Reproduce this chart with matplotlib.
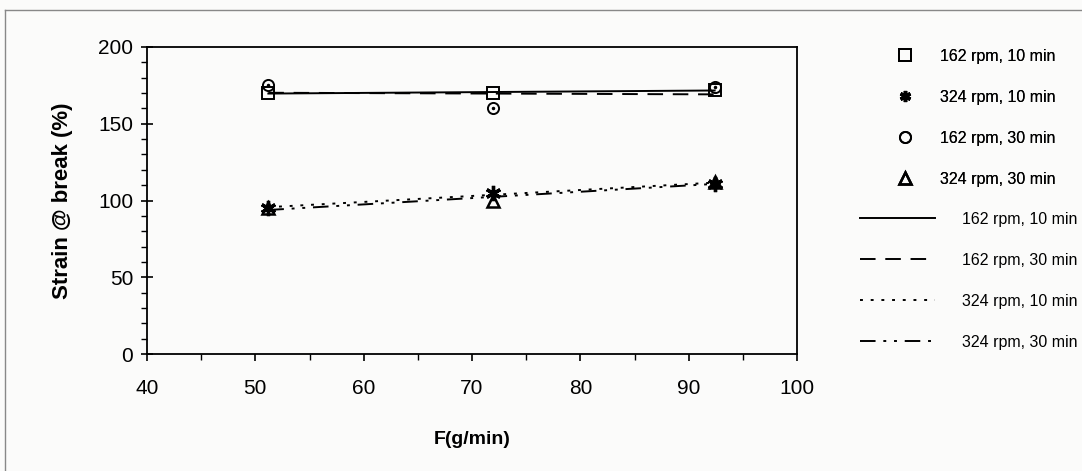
import numpy as np
import matplotlib
matplotlib.use("Agg")
import matplotlib.pyplot as plt
from matplotlib.lines import Line2D

plt.rcParams['font.family'] = ['Liberation Sans', 'DejaVu Sans']

# Data
feed_rate = [51.2, 71.9, 92.4]           # F (g/min)
s162_10 = [170, 170, 172]                # 162 rpm, 10 min
s324_10 = [95, 105, 111]                 # 324 rpm, 10 min
s162_30 = [175, 160, 174]                # 162 rpm, 30 min
s324_30 = [95, 100, 112]                 # 324 rpm, 30 min

marker_labels = ["162 rpm, 10 min", "324 rpm, 10 min", "162 rpm, 30 min", "324 rpm, 30 min"]
line_labels = ["162 rpm, 10 min", "162 rpm, 30 min", "324 rpm, 10 min", "324 rpm, 30 min"]
x_ticks = [40, 50, 60, 70, 80, 90, 100]
y_ticks = [0, 50, 100, 150, 200]

W, H = 1082, 471
fig = plt.figure(figsize=(W / 100, H / 100), dpi=100)
fig.patch.set_facecolor('#fbfbfa')

ax = fig.add_axes([147 / W, 1 - 354 / H, (797 - 147) / W, (354 - 47) / H])
ax.set_facecolor('none')

x = np.array(feed_rate)

def trend(y):
    c = np.polyfit(x, np.array(y, dtype=float), 1)
    return np.polyval(c, x)

ms = 9
mk_square, = ax.plot(x, s162_10, linestyle='none', marker='s', ms=ms, mfc='none', mec='black', mew=1.4)
mk_star, = ax.plot(x, s324_10, linestyle='none', marker=(6, 2, 0), ms=ms + 2, mec='black', mew=2.4)
mk_circle, = ax.plot(x, s162_30, linestyle='none', marker='o', ms=ms - 1, mfc='none', mec='black', mew=1.4)
ax.plot(x, s162_30, linestyle='none', marker='.', ms=3, color='black')
mk_tri, = ax.plot(x, s324_30, linestyle='none', marker='^', ms=ms, mfc='none', mec='black', mew=1.8)

ln1, = ax.plot(x, trend(s162_10), color='black', lw=1.4, linestyle='-')
ln2, = ax.plot(x, trend(s162_30), color='black', lw=1.4, linestyle=(0, (8, 5)))
ln3, = ax.plot(x, trend(s324_10), color='black', lw=1.4, linestyle=(0, (1.5, 4)))
ln4, = ax.plot(x, trend(s324_30), color='black', lw=1.4, linestyle=(0, (8, 4, 1.5, 4, 1.5, 4)))

ax.set_xlim(40, 100)
ax.set_ylim(0, 200)
ax.set_xticks(x_ticks)
ax.set_yticks(y_ticks)
ax.set_xticks(np.arange(40, 101, 5), minor=True)
ax.set_yticks(np.arange(0, 201, 10), minor=True)
ax.tick_params(axis='both', which='major', direction='inout', length=8, width=1.2, labelsize=15, pad=6)
ax.tick_params(axis='both', which='minor', direction='out', length=4, width=1.0)
ax.tick_params(axis='x', which='major', direction='out', length=5, pad=13)
for s in ax.spines.values():
    s.set_linewidth(1.3)

ax.set_xlabel("F(g/min)", fontsize=14, fontweight='bold', labelpad=24)
ax.set_ylabel("Strain @ break (%)", fontsize=16, fontweight='bold', labelpad=18)

# Legends
leg1 = fig.legend([mk_square, mk_star, mk_circle, mk_tri], marker_labels,
                  loc='upper left', bbox_to_anchor=(895 / W, 1 - 49 / H),
                  frameon=False, fontsize=11.5, handlelength=1.2, handletextpad=1.6,
                  labelspacing=1.62, borderaxespad=0, borderpad=0)
for h in leg1.legend_handles:
    h.set_markersize(8)
fig.add_artist(leg1)
leg2 = fig.legend([ln1, ln2, ln3, ln4], line_labels,
                  loc='upper left', bbox_to_anchor=(860 / W, 1 - 212 / H),
                  frameon=False, fontsize=11.5, handlelength=4.7, handletextpad=1.7,
                  labelspacing=1.62, borderaxespad=0, borderpad=0)

# outer chart-area border
fig.add_artist(Line2D([5 / W, 1.0], [1 - 10 / H, 1 - 10 / H], color='#888888', lw=1.0))
fig.add_artist(Line2D([5 / W, 5 / W], [0.0, 1 - 10 / H], color='#888888', lw=1.0))

fig.savefig("out.png", dpi=100, facecolor=fig.get_facecolor())
